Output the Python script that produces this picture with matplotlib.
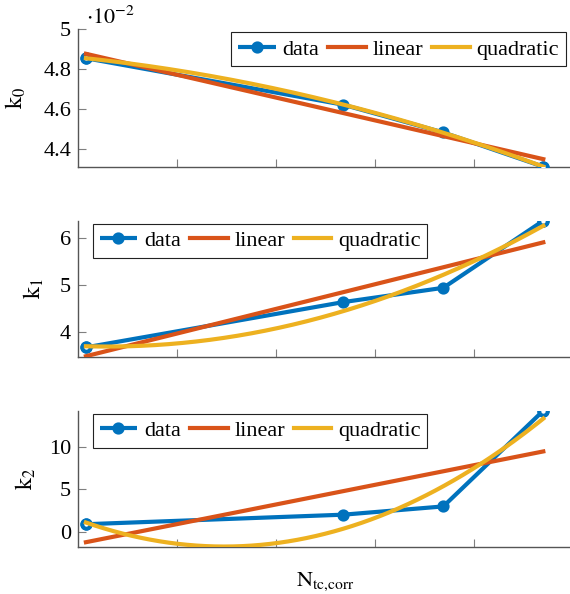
import numpy as np
import matplotlib
matplotlib.use("Agg")
import matplotlib.pyplot as plt

# ---- data ----
x_data = [0.08, 2.68, 3.69, 4.70]
k0 = [4.855, 4.622, 4.483, 4.3115]   # in units of 1e-2
k1 = [3.684, 4.644, 4.947, 6.37]
k2 = [0.90, 2.02, 2.99, 14.23]
ylabels = [r'$\mathrm{k}_0$', r'$\mathrm{k}_1$', r'$\mathrm{k}_2$']
ylims = [(4.3115, 5.0), (3.486, 6.37), (-1.74, 14.23)]
yticks = [[4.4, 4.6, 4.8, 5.0], [4, 5, 6], [0, 5, 10]]
yticklabels = [['4.4', '4.6', '4.8', '5'], ['4', '5', '6'], ['0', '5', '10']]
legend_labels = ['data', 'linear', 'quadratic']

BLUE = '#0072BD'
ORANGE = '#D95319'
YELLOW = '#EDB120'
GRAY = '#7f7f7f'

plt.rcParams['font.family'] = ['Liberation Serif', 'DejaVu Serif']
plt.rcParams['mathtext.fontset'] = 'stix'
plt.rcParams['font.size'] = 16

fig = plt.figure(figsize=(5.70, 5.94), dpi=100)
W, H = 570.0, 594.0
left_px, right_px = 78.0, 573.0
panels_px = [(29.3, 166.7), (220.7, 356.7), (410.7, 546.7)]
legend_specs = [('upper right', (0.985, 0.978)), ('upper left', (0.030, 0.976)), ('upper left', (0.030, 0.976))]
labelpads = [11, 10, 8]

xs = np.array(x_data)
xfine = np.linspace(xs[0], xs[-1], 200)

for i, (ys, (top, bot)) in enumerate(zip([k0, k1, k2], panels_px)):
    ax = fig.add_axes([left_px / W, 1 - bot / H, (right_px - left_px) / W, (bot - top) / H])
    y = np.array(ys)
    lin = np.polyfit(xs, y, 1)
    quad = np.polyfit(xs, y, 2)
    ax.plot(xs, y, color=BLUE, lw=3.0, marker='o', ms=6, mfc=BLUE, mec=BLUE, mew=2.8,
            label=legend_labels[0], zorder=3, solid_capstyle='butt')
    ax.plot(xs[[0, -1]], y[[0, -1]], ls='none', marker='o', ms=6, mfc='white', mec=BLUE, mew=2.8, zorder=3.5)
    ax.plot(xs, np.polyval(lin, xs), color=ORANGE, lw=3.0, label=legend_labels[1], zorder=4)
    ax.plot(xfine, np.polyval(quad, xfine), color=YELLOW, lw=3.0, label=legend_labels[2], zorder=5)

    ax.set_xlim(0, 5.0)
    ax.set_ylim(*ylims[i])
    ax.set_xticks([1, 2, 3, 4])
    ax.set_xticklabels([])
    ax.set_yticks(yticks[i])
    ax.set_yticklabels(yticklabels[i])
    for s in ['top', 'right']:
        ax.spines[s].set_visible(False)
    for s in ['left', 'bottom']:
        ax.spines[s].set_color('#555555')
        ax.spines[s].set_linewidth(1.0)
    ax.tick_params(direction='in', length=6, width=0.8, color=GRAY, labelsize=16, pad=5)
    ax.set_ylabel(ylabels[i], fontsize=17, labelpad=labelpads[i])
    loc, anchor = legend_specs[i]
    leg = ax.legend(loc=loc, bbox_to_anchor=anchor, ncol=3, frameon=True, fancybox=False,
                    edgecolor='#222222', framealpha=1, handlelength=1.7, handletextpad=0.3,
                    columnspacing=0.4, borderpad=0.3, borderaxespad=0, fontsize=16)
    leg.get_frame().set_linewidth(0.8)
    ax.patch.set_alpha(0)
    if i == 0:
        ax.text(0.016, 1.0, r'$\cdot 10^{-2}$', transform=ax.transAxes, ha='left', va='bottom',
                fontsize=16)
    if i == 2:
        ax.set_xlabel(r'$\mathrm{N}_{\mathrm{tc{,}corr}}$', fontsize=16, labelpad=12)

fig.savefig('out.png', dpi=100)
